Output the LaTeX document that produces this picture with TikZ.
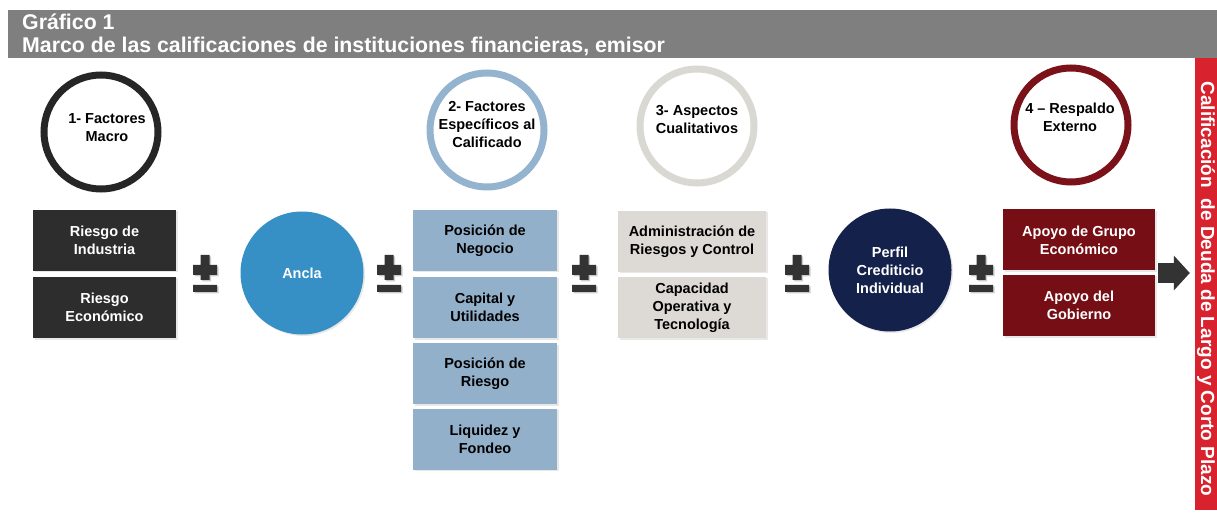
\documentclass[tikz,border=0pt]{standalone}
\usepackage{fontspec}
\setmainfont{Liberation Sans}
\usetikzlibrary{arrows.meta,shadows}

\definecolor{headgray}{HTML}{7F7F7F}
\definecolor{barred}{HTML}{D8232F}
\definecolor{signgray}{HTML}{333333}
\definecolor{boxdark}{HTML}{2D2D2D}
\definecolor{boxblue}{HTML}{93B0CA}
\definecolor{boxgray}{HTML}{DDDAD5}
\definecolor{boxred}{HTML}{760E15}
\definecolor{ringdark}{HTML}{262626}
\definecolor{ringblue}{HTML}{94B3CF}
\definecolor{ringgray}{HTML}{DAD8D3}
\definecolor{ringred}{HTML}{7B1119}
\definecolor{anclablue}{HTML}{3690C6}
\definecolor{perfilnavy}{HTML}{14214B}

\newcommand{\boxfont}{\bfseries\fontsize{14.5}{18}\selectfont}

\tikzstyle{headtext}=[text=white, inner sep=0pt, font=\bfseries\fontsize{21.3}{23}\selectfont]
\tikzstyle{bartext}=[text=white, inner sep=0pt, font=\bfseries\fontsize{19}{21}\selectfont]
\tikzstyle{shade}=[drop shadow={opacity=.18, shadow xshift=1.5pt, shadow yshift=-1.5pt}]
\tikzstyle{ring}=[circle, line width=7pt, fill=white, minimum size=114pt, inner sep=0pt, shade]
\tikzstyle{ringtext}=[align=center, inner sep=0pt, font=\boxfont]
\tikzstyle{box}=[rectangle, align=center, inner sep=2pt, minimum height=61pt, font=\boxfont, shade]
\tikzstyle{disc}=[circle, minimum size=123pt, inner sep=0pt, text=white, align=center, font=\boxfont, shade]
\tikzstyle{blockarrow}=[draw=signgray, line width=20pt, -{Triangle[length=16pt, width=34pt]}, shorten >=5pt]

\tikzset{
    plusminus/.pic={
        \foreach \d/\c in {1.5/black!20, 0/signgray}
            \fill[\c, shift={(\d,\d)}] (-4.5,-18) rectangle (4.5,7)
                (-12,-8) rectangle (12,2) (-12,12) rectangle (12,19);
    }
}

\begin{document}
\begin{tikzpicture}[x=1pt, y=-1pt]
    \useasboundingbox (0,0) rectangle (1217,518);
    % Header band and title
    \fill[headgray] (8,10) rectangle (1217,58);
    \node[headtext, anchor=base west] (grafico) at (22,30) {Gráfico 1};
    \node[headtext, anchor=base west] (marco) at (22,53)
        {Marco de las calificaciones de instituciones financieras, emisor};
    % Red bar on the right
    \node[fill=barred, minimum width=22pt, minimum height=452pt, inner sep=0pt] (bar) at (1206,284) {};
    \node[bartext, rotate=-90] (barlabel) at (1206,289)
        {Calificación\ \ de Deuda de Largo y Corto Plazo};
    % First the rings with their headings
    \foreach \pos/\name/\col in {{(101,132)/macro/ringdark}, {(487,130)/especificos/ringblue},
            {(697,126)/cualitativos/ringgray}, {(1071,125)/respaldo/ringred}}
        \node[ring, draw=\col] (\name) at \pos {};
    \foreach \pos/\name/\txt in {{(107,128)/macrotxt/{1- Factores\\Macro}},
            {(487,125)/especificostxt/{2- Factores\\Específicos al\\Calificado}},
            {(697,120)/cualitativostxt/{3- Aspectos\\Cualitativos}},
            {(1070,117)/respaldotxt/{4 -- Respaldo\\Externo}}}
        \node[ringtext] (\name) at \pos {\txt};
    % Then the boxes, column by column
    \foreach \pos/\name/\txt in {{(104.5,240.5)/industria/{Riesgo de\\Industria}},
            {(104.5,307.5)/economico/{Riesgo\\Económico}}}
        \node[box, fill=boxdark, text=white, minimum width=143pt] (\name) at \pos {\txt};
    \foreach \pos/\name/\txt in {{(485,240.5)/negocio/{Posición de\\Negocio}},
            {(485,307.5)/capital/{Capital y\\Utilidades}},
            {(485,373.5)/posriesgo/{Posición de\\Riesgo}},
            {(485,439)/liquidez/{Liquidez y\\Fondeo}}}
        \node[box, fill=boxblue, minimum width=144pt] (\name) at \pos {\txt};
    \foreach \pos/\name/\txt in {{(692,241.5)/administracion/{Administración de\\Riesgos y Control}},
            {(692,307.5)/capacidad/{Capacidad\\Operativa y\\Tecnología}}}
        \node[box, fill=boxgray, minimum width=148pt] (\name) at \pos {\txt};
    \foreach \pos/\name/\txt in {{(1079,240)/grupo/{Apoyo de Grupo\\Económico}},
            {(1079,305.5)/gobierno/{Apoyo del\\Gobierno}}}
        \node[box, fill=boxred, text=white, minimum width=152pt] (\name) at \pos {\txt};
    % Discs
    \node[disc, fill=anclablue] (ancla) at (302,273) {Ancla};
    \node[disc, fill=perfilnavy] (perfil) at (890,270) {Perfil\\Crediticio\\Individual};
    % Plus-minus signs
    \foreach \x/\name in {205/pma, 389/pmb, 584/pmc, 797/pmd, 981/pme}
        \pic (\name) at (\x,273) {plusminus};
    % Arrow into the bar
    \coordinate (arrowstart) at (1158,273);
    \draw[blockarrow] (arrowstart) -- (bar.west |- arrowstart);
\end{tikzpicture}
\end{document}
